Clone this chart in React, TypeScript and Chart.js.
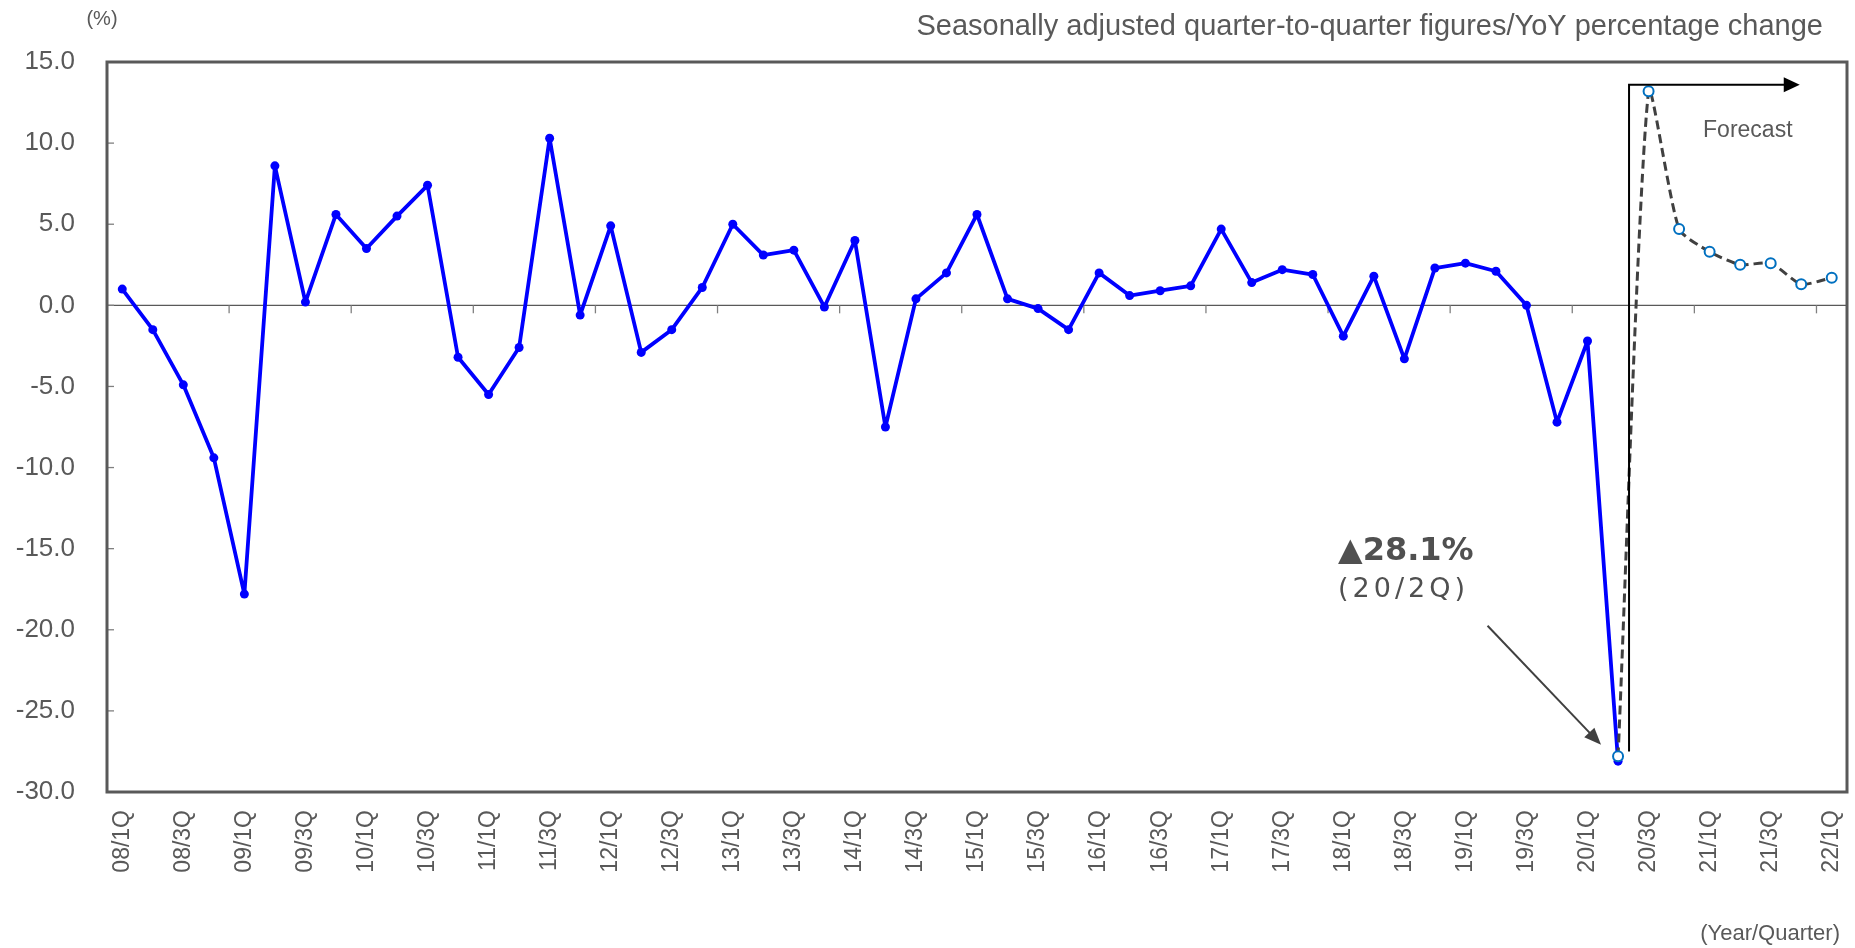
import React, { useEffect, useRef } from "react";
import { Chart, registerables } from "chart.js";

Chart.register(...registerables);

// ---- Data ----
const categories = [
  "08/1Q", "08/2Q", "08/3Q", "08/4Q",
  "09/1Q", "09/2Q", "09/3Q", "09/4Q",
  "10/1Q", "10/2Q", "10/3Q", "10/4Q",
  "11/1Q", "11/2Q", "11/3Q", "11/4Q",
  "12/1Q", "12/2Q", "12/3Q", "12/4Q",
  "13/1Q", "13/2Q", "13/3Q", "13/4Q",
  "14/1Q", "14/2Q", "14/3Q", "14/4Q",
  "15/1Q", "15/2Q", "15/3Q", "15/4Q",
  "16/1Q", "16/2Q", "16/3Q", "16/4Q",
  "17/1Q", "17/2Q", "17/3Q", "17/4Q",
  "18/1Q", "18/2Q", "18/3Q", "18/4Q",
  "19/1Q", "19/2Q", "19/3Q", "19/4Q",
  "20/1Q", "20/2Q", "20/3Q", "20/4Q",
  "21/1Q", "21/2Q", "21/3Q", "21/4Q",
  "22/1Q",
];

// Actual results 08/1Q .. 20/2Q
const actualValues = [
  1.0, -1.5, -4.9, -9.4,
  -17.8, 8.6, 0.2, 5.6,
  3.5, 5.5, 7.4, -3.2,
  -5.5, -2.6, 10.3, -0.6,
  4.9, -2.9, -1.5, 1.1,
  5.0, 3.1, 3.4, -0.1,
  4.0, -7.5, 0.4, 2.0,
  5.6, 0.4, -0.2, -1.5,
  2.0, 0.6, 0.9, 1.2,
  4.7, 1.4, 2.2, 1.9,
  -1.9, 1.8, -3.3, 2.3,
  2.6, 2.1, 0.0, -7.2,
  -2.2, -28.1,
];

// Forecast 20/2Q .. 22/1Q
const forecastStartLabel = "20/2Q";
const forecastValues = [-27.8, 13.2, 4.7, 3.3, 2.5, 2.6, 1.3, 1.7];

const yTickValues = [-30, -25, -20, -15, -10, -5, 0, 5, 10, 15];

const titleText = "Seasonally adjusted quarter-to-quarter figures/YoY percentage change";
const unitText = "(%)";
const xAxisText = "(Year/Quarter)";
const forecastText = "Forecast";

const FONT = '"Liberation Sans", Arial, sans-serif';
const TEXT_COLOR = "#595959";

const forecastStart = categories.indexOf(forecastStartLabel);
const actualData = categories.map((_, i) => (i < actualValues.length ? actualValues[i] : null));
const forecastData = categories.map((_, i) =>
  i >= forecastStart && i - forecastStart < forecastValues.length ? forecastValues[i - forecastStart] : null
);
const troughIndex = actualValues.length - 1;

function line(ctx: CanvasRenderingContext2D, x1: number, y1: number, x2: number, y2: number) {
  ctx.beginPath();
  ctx.moveTo(x1, y1);
  ctx.lineTo(x2, y2);
  ctx.stroke();
}

const decorPlugin = {
  id: "decor",
  beforeDatasetsDraw(chart: any) {
    const { ctx, chartArea: ca, scales } = chart;
    const x = scales.x;
    const y = scales.y;
    ctx.save();
    const y0 = y.getPixelForValue(0);
    ctx.strokeStyle = "#595959";
    ctx.lineWidth = 1.3;
    line(ctx, ca.left, y0, ca.right, y0);
    const step = x.getPixelForValue(1) - x.getPixelForValue(0);
    ctx.strokeStyle = "#808080";
    ctx.lineWidth = 1.3;
    for (let i = 4; i < categories.length; i += 4) {
      const px = x.getPixelForValue(i) - step / 2;
      line(ctx, px, y0, px, y0 + 8);
    }
    for (const t of yTickValues) {
      const py = y.getPixelForValue(t);
      line(ctx, ca.left, py, ca.left + 7, py);
    }
    ctx.restore();
  },
  afterDatasetsDraw(chart: any) {
    const { ctx, chartArea: ca, scales } = chart;
    const x = scales.x;
    const y = scales.y;
    const step = x.getPixelForValue(1) - x.getPixelForValue(0);
    ctx.save();

    // plot border
    ctx.strokeStyle = "#595959";
    ctx.lineWidth = 3;
    ctx.strokeRect(ca.left, ca.top, ca.right - ca.left, ca.bottom - ca.top);

    // forecast bracket
    const bx = x.getPixelForValue(forecastStart) + 0.36 * step;
    const bTop = y.getPixelForValue(13.6);
    const bBottom = y.getPixelForValue(-27.5);
    const tipX = x.getPixelForValue(categories.length - 1) - 32;
    ctx.strokeStyle = "#000000";
    ctx.lineWidth = 2;
    ctx.beginPath();
    ctx.moveTo(bx, bBottom);
    ctx.lineTo(bx, bTop);
    ctx.lineTo(tipX - 14, bTop);
    ctx.stroke();
    ctx.fillStyle = "#000000";
    ctx.beginPath();
    ctx.moveTo(tipX, bTop);
    ctx.lineTo(tipX - 16, bTop - 7.5);
    ctx.lineTo(tipX - 16, bTop + 7.5);
    ctx.closePath();
    ctx.fill();

    ctx.fillStyle = TEXT_COLOR;
    ctx.font = `23px ${FONT}`;
    ctx.textAlign = "left";
    ctx.textBaseline = "alphabetic";
    ctx.fillText(forecastText, bx + 74, bTop + 52);

    // trough annotation
    const px = x.getPixelForValue(troughIndex);
    const py = y.getPixelForValue(actualValues[troughIndex]);
    ctx.fillStyle = "#505050";
    ctx.font = `bold 32px "DejaVu Sans", sans-serif`;
    ctx.fillText(`▲${Math.abs(actualValues[troughIndex]).toFixed(1)}%`, px - 280, py - 201);
    ctx.font = `27px "DejaVu Sans", sans-serif`;
    try { (ctx as any).letterSpacing = "4px"; } catch (e) {}
    ctx.fillText(`(${categories[troughIndex]})`, px - 280, py - 164);
    try { (ctx as any).letterSpacing = "0px"; } catch (e) {}

    // arrow
    const sx = px - 130.5, sy = py - 135.4;
    const ex = px - 17, ey = py - 16.4;
    const ang = Math.atan2(ey - sy, ex - sx);
    ctx.strokeStyle = "#404040";
    ctx.fillStyle = "#404040";
    ctx.lineWidth = 2;
    line(ctx, sx, sy, ex - 14 * Math.cos(ang), ey - 14 * Math.sin(ang));
    ctx.beginPath();
    ctx.moveTo(ex, ey);
    ctx.lineTo(ex - 17 * Math.cos(ang) + 7 * Math.sin(ang), ey - 17 * Math.sin(ang) - 7 * Math.cos(ang));
    ctx.lineTo(ex - 17 * Math.cos(ang) - 7 * Math.sin(ang), ey - 17 * Math.sin(ang) + 7 * Math.cos(ang));
    ctx.closePath();
    ctx.fill();

    // header texts
    ctx.fillStyle = TEXT_COLOR;
    ctx.font = `29px ${FONT}`;
    ctx.textAlign = "right";
    ctx.fillText(titleText, ca.right - 24, 35);

    ctx.font = `20px ${FONT}`;
    ctx.textAlign = "center";
    ctx.fillText(unitText, 102, 25);

    ctx.font = `22px ${FONT}`;
    ctx.textAlign = "right";
    ctx.fillText(xAxisText, ca.right - 7, 940);

    ctx.restore();
  },
};

export default function App() {
  const canvasRef = useRef<HTMLCanvasElement | null>(null);

  useEffect(() => {
    document.body.style.margin = "0";
    document.body.style.overflow = "hidden";
    const canvas = canvasRef.current;
    if (!canvas) return;
    const chart = new Chart(canvas, {
      type: "line",
      data: {
        labels: categories,
        datasets: [
          {
            label: "Forecast",
            data: forecastData,
            order: 0,
            borderColor: "#404040",
            borderWidth: 3,
            borderDash: [9, 5],
            tension: 0.2,
            pointRadius: 5,
            pointBorderWidth: 2,
            pointBorderColor: "#0070C0",
            pointBackgroundColor: "#FFFFFF",
            spanGaps: false,
            fill: false,
          },
          {
            label: "Actual",
            data: actualData,
            order: 1,
            borderColor: "#0000FF",
            borderWidth: 3.8,
            borderJoinStyle: "round",
            borderCapStyle: "round",
            tension: 0,
            pointRadius: 4.5,
            pointBorderWidth: 0,
            pointBackgroundColor: "#0000FF",
            spanGaps: false,
            fill: false,
          },
        ],
      },
      options: {
        responsive: false,
        animation: false,
        devicePixelRatio: 1,
        layout: { padding: { top: 62, right: 8, left: 0, bottom: 0 } },
        plugins: {
          legend: { display: false },
          tooltip: { enabled: false },
        },
        scales: {
          x: {
            type: "category",
            offset: true,
            grid: { display: false },
            border: { display: false },
            ticks: {
              autoSkip: false,
              maxRotation: 90,
              minRotation: 90,
              padding: 10,
              color: TEXT_COLOR,
              font: { family: FONT, size: 23 },
              callback: (_v: any, i: number) => (i % 2 === 0 ? categories[i] : ""),
            },
            afterFit: (s: any) => {
              s.height = 156;
              s.paddingLeft = 0;
              s.paddingRight = 0;
            },
          },
          y: {
            min: -30,
            max: 15,
            grid: { display: false },
            border: { display: false },
            ticks: {
              stepSize: 5,
              padding: 24,
              color: TEXT_COLOR,
              font: { family: FONT, size: 26 },
              callback: (v: any) => Number(v).toFixed(1),
            },
            afterFit: (s: any) => {
              s.width = 107;
              s.paddingTop = 0;
              s.paddingBottom = 0;
            },
          },
        },
      },
      plugins: [decorPlugin],
    } as any);
    return () => chart.destroy();
  }, []);

  return (
    <div style={{ width: 1855, height: 948, position: "relative", background: "#ffffff" }}>
      <canvas ref={canvasRef} width={1855} height={948} style={{ display: "block" }} />
    </div>
  );
}
